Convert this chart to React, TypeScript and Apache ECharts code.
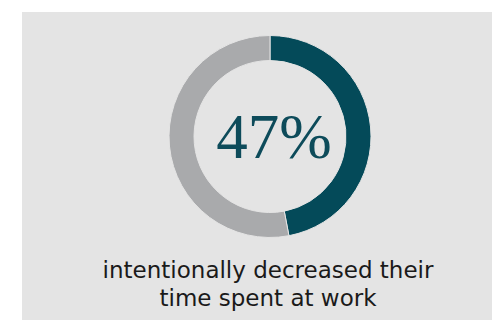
import React, { useEffect, useRef } from "react";
import * as echarts from "echarts";

const categories = ["Intentionally decreased time at work", "Other"];
const values = [47, 53];
const colors = ["#044a59", "#a9aaac"];
const captionLines = ["intentionally decreased their", "time spent at work"];

export default function App() {
  const ref = useRef<HTMLDivElement>(null);
  useEffect(() => {
    if (!ref.current) return;
    const chart = echarts.init(ref.current, null, { renderer: "svg" });
    chart.setOption({
      animation: false,
      backgroundColor: "#ffffff",
      graphic: [
        {
          type: "rect",
          z: -10,
          shape: { x: 22, y: 12, width: 470, height: 308 },
          style: { fill: "#e4e4e4" },
        },
      ],
      title: [
        {
          text: `${values[0]}%`,
          left: 269,
          top: 100,
          textAlign: "center",
          textStyle: {
            fontFamily: "Liberation Serif",
            fontWeight: "normal",
            fontSize: 63,
            color: "#0d4b5a",
          },
        },
        ...captionLines.map((line, i) => ({
          text: line,
          left: 268,
          top: 258 + i * 28,
          textAlign: "center",
          padding: 0,
          textStyle: {
            fontFamily: "DejaVu Sans",
            fontWeight: "normal",
            fontSize: 23,
            color: "#1a1a1a",
          },
        })),
      ],
      series: [
        {
          type: "pie",
          center: [270, 136.5],
          radius: [76, 101],
          startAngle: 90,
          clockwise: true,
          label: { show: false },
          labelLine: { show: false },
          emphasis: { disabled: true },
          itemStyle: { borderColor: "#e4e4e4", borderWidth: 1 },
          data: categories.map((name, i) => ({
            name,
            value: values[i],
            itemStyle: { color: colors[i] },
          })),
        },
      ],
    });
    return () => chart.dispose();
  }, []);
  return (
    <div
      ref={ref}
      style={{ position: "fixed", left: 0, top: 0, width: 492, height: 320 }}
    />
  );
}
